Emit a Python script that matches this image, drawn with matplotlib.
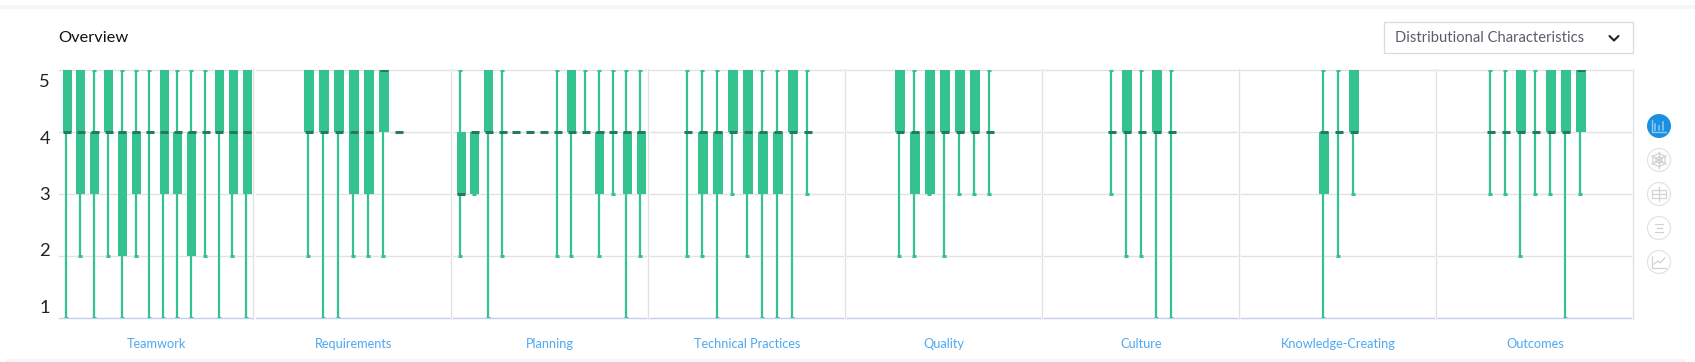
import matplotlib
matplotlib.use("Agg")
import matplotlib.pyplot as plt
from matplotlib.patches import Rectangle, Circle, Polygon
import numpy as np

# ---------- data: (low whisker, q1, median, q3, high whisker) ----------
categories = ["Teamwork", "Requirements", "Planning", "Technical Practices",
              "Quality", "Culture", "Knowledge-Creating", "Outcomes"]
teamwork = [(1,4,4,5,5),(2,3,4,5,5),(1,3,4,4,5),(2,4,4,5,5),(1,2,4,4,5),(2,3,4,4,5),(1,4,4,4,5),
            (1,3,4,5,5),(1,3,4,4,5),(1,2,4,4,5),(2,4,4,4,5),(1,4,4,5,5),(2,3,4,5,5),(1,3,4,5,5)]
requirements = [(2,4,4,5,5),(1,4,4,5,5),(1,4,4,5,5),(2,3,4,5,5),(2,3,4,5,5),(2,4,5,5,5),(4,4,4,4,4)]
planning = [(2,3,3,4,5),(3,3,4,4,4),(1,4,4,5,5),(2,4,4,4,5),(4,4,4,4,4),(4,4,4,4,4),(4,4,4,4,4),
            (2,4,4,4,5),(2,4,4,5,5),(4,4,4,4,5),(2,3,4,4,5),(3,4,4,4,5),(1,3,4,4,5),(2,3,4,4,5)]
technical = [(2,4,4,4,5),(2,3,4,4,5),(1,3,4,4,5),(3,4,4,5,5),(2,3,4,5,5),(1,3,4,4,5),(1,3,4,4,5),
             (1,4,4,5,5),(3,4,4,4,5)]
quality = [(2,4,4,5,5),(2,3,4,4,5),(3,3,4,5,5),(2,4,4,5,5),(3,4,4,5,5),(3,4,4,5,5),(3,4,4,4,5)]
culture = [(3,4,4,4,5),(2,4,4,5,5),(2,4,4,4,5),(1,4,4,5,5),(1,4,4,4,5)]
knowledge = [(1,3,4,4,5),(2,4,4,4,5),(3,4,4,5,5)]
outcomes = [(3,4,4,4,5),(3,4,4,4,5),(2,4,4,5,5),(3,4,4,4,5),(3,4,4,5,5),(1,4,4,5,5),(3,4,5,5,5)]
panels = [teamwork, requirements, planning, technical, quality, culture, knowledge, outcomes]
y_ticks = [1, 2, 3, 4, 5]
title = "Overview"
dropdown_label = "Distributional Characteristics"

# ---------- style ----------
W, H = 1695, 362
GREEN, DARK = "#34C38F", "#237A5F"
GRID, BASE, BLUE = "#E2E2E2", "#C3CEEC", "#4DA9F2"
FONT = ["Lato", "DejaVu Sans"]
plt.rcParams["font.family"] = FONT
px = 72 / 100  # one pixel in points

fig = plt.figure(figsize=(W / 100, H / 100), dpi=100, facecolor="white")

def px_axes(l, t, r, b, **kw):
    return fig.add_axes([l / W, 1 - b / H, (r - l) / W, (b - t) / H], **kw)

# page overlay in pixel coordinates
bg = px_axes(0, 0, W, H, zorder=0)
bg.set_xlim(0, W); bg.set_ylim(H, 0); bg.axis("off")
bg.add_patch(Rectangle((0, 5), W, 4, fc="#F5F6F8", ec="none"))
bg.add_patch(Rectangle((6, 359), 1680, 3, fc="#F5F6F8", ec="none"))
bg.text(58, 37.5, title, fontsize=11.8, color="#111111", va="center", ha="left")

# dropdown
bg.add_patch(Rectangle((1384, 21.5), 249, 31, fc="white", ec="#DADBDF", lw=1 * px * 1.3))
bg.text(1395, 37.5, dropdown_label, fontsize=10.6, color="#5C5C6E", va="center", ha="left")
bg.plot([1609.5, 1614, 1618.5], [36, 40.5, 36], color="#222222", lw=1.6 * px * 1.3, solid_capstyle="round")

# panels
P_LEFT, P_W, P_TOP, P_BOT = 57.5, 197, 70, 318
SHIFT = 0.8
for i, (name, data) in enumerate(zip(categories, panels)):
    l = P_LEFT + i * P_W
    ax = px_axes(l, P_TOP, l + P_W, P_BOT, zorder=2)
    ax.patch.set_alpha(0)
    ax.set_xlim(-P_W / 2 + 0.5, P_W / 2 + 0.5)
    ax.set_ylim(1, 5)
    for s in ax.spines.values():
        s.set_visible(False)
    ax.set_yticks([])
    ax.set_xticks([SHIFT], [name], fontsize=9.2, color=BLUE)
    ax.tick_params(axis="x", length=0, pad=14.5)
    lx0, lx1 = -P_W / 2 + 1.5, P_W / 2 - 2
    for v in y_ticks[1:]:
        ax.plot([lx0, lx1], [v, v], color=GRID, lw=1.4 * px, zorder=1, clip_on=False)
    ax.plot([lx0, lx1], [1, 1], color=BASE, lw=1.4 * px, zorder=1, clip_on=False)
    ax.plot([P_W / 2 - 0.5] * 2, [0.985, 5.02], color=GRID, lw=1.4 * px, zorder=1, clip_on=False)

    n = len(data)
    gap = 13.85 if n > 9 else 15.0
    box_w = 9 if n > 9 else 10
    xs = (np.arange(n) - (n - 1) / 2) * gap + SHIFT
    for x, (lo, q1, med, q3, hi) in zip(xs, data):
        if hi > lo:
            ax.plot([x, x], [lo, hi], color=GREEN, lw=2.2 * px, solid_capstyle="butt", zorder=3)
        for v in (lo, hi):
            if hi > lo and v != med:
                ax.plot([x - 2, x + 2], [v, v], color=GREEN, lw=3 * px, solid_capstyle="butt", zorder=3)
        if q3 > q1:
            ax.bar(x + 0.8, q3 - q1, bottom=q1, width=box_w, color=GREEN, lw=0, zorder=4)
        ax.plot([x - 3.2, x + 4.8], [med, med], color=DARK, lw=3 * px,
                solid_capstyle="butt", zorder=5)

# y tick labels sit on their own scale, tighter than the grid
yax = px_axes(50, 80.5, 55, 306.5, zorder=2)
yax.patch.set_alpha(0)
yax.set_ylim(1, 5)
yax.set_xticks([])
for s in yax.spines.values():
    s.set_visible(False)
yax.set_yticks(y_ticks, [str(v) for v in y_ticks], fontsize=13.2, color="#222222")
yax.tick_params(axis="y", length=0, pad=0)

# side icons
ic = px_axes(1640, 110, 1680, 280, zorder=3)
ic.set_xlim(1640, 1680); ic.set_ylim(280, 110); ic.axis("off")
cx = 1659
ys = [126, 160, 194, 228, 262]
G = "#D2D2D2"
lw = 1.2 * px
ic.add_patch(Circle((cx, ys[0]), 12, fc="#1B90E0", ec="none"))
for dx, h in zip((-4, 0, 4), (6, 4, 8)):
    ic.plot([cx + dx] * 2, [ys[0] + 4, ys[0] + 4 - h], color="#8CC8F0", lw=1.6 * px)
ic.plot([cx - 7, cx - 7, cx + 7], [ys[0] - 6, ys[0] + 6, ys[0] + 6], color="#8CC8F0", lw=1.4 * px)
for y in ys[1:]:
    ic.add_patch(Circle((cx, y), 11.5, fc="white", ec="#E2E2E2", lw=1.2 * px))
# radar glyph
y = ys[1]
ang = np.linspace(0, 2 * np.pi, 7)[:-1] + np.pi / 6
for r in (3.5, 7):
    ic.add_patch(Polygon(np.c_[cx + r * np.cos(ang), y + r * np.sin(ang)], closed=True, fc="none", ec=G, lw=lw))
for a in ang:
    ic.plot([cx - 8 * np.cos(a), cx + 8 * np.cos(a)], [y - 8 * np.sin(a), y + 8 * np.sin(a)], color=G, lw=lw)
# box glyph
y = ys[2]
ic.add_patch(Rectangle((cx - 7, y - 4), 14, 8, fc="none", ec=G, lw=lw))
ic.plot([cx - 7, cx + 7], [y, y], color=G, lw=lw)
ic.plot([cx, cx], [y - 7, y + 7], color=G, lw=lw)
# list glyph
y = ys[3]
for dy, hw in zip((-4, 0, 4), (4, 2.5, 4)):
    ic.plot([cx - hw, cx + hw], [y + dy, y + dy], color=G, lw=lw)
# trend glyph
y = ys[4]
ic.plot([cx - 7, cx - 7, cx + 7], [y - 6, y + 6, y + 6], color=G, lw=lw)
ic.plot([cx - 5, cx - 1, cx + 1, cx + 6], [y + 2, y - 1, y + 1, y - 4], color=G, lw=lw)

fig.savefig("out.png", dpi=100, facecolor="white")
